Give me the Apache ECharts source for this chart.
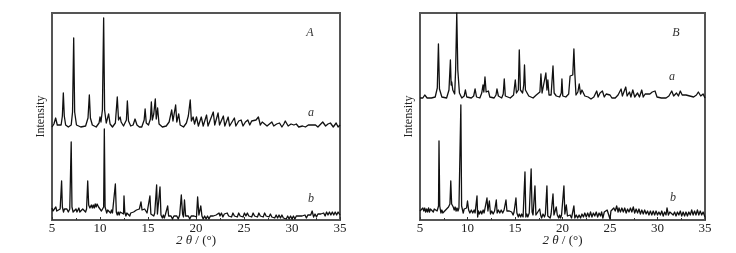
<!DOCTYPE html>
<html><head><meta charset="utf-8">
<style>html,body{margin:0;padding:0;background:#fff}#c{width:736px;height:253px}</style>
<script src="https://cdn.jsdelivr.net/npm/echarts@6/dist/echarts.min.js"></script>
</head><body><div id="c"></div>
<script>
const tickLabels = [5,10,15,20,25,30,35];
const curveAa = [[5,93],[5.2,96],[5.38,102],[5.55,95],[5.75,93],[5.95,95],[6.08,104],[6.18,127],[6.28,104],[6.42,95],[6.7,93],[7,95],[7.14,108],[7.26,182],[7.36,108],[7.55,95],[8,93],[8.5,94],[8.75,102],[8.89,125],[9,102],[9.2,95],[9.6,93],[9.9,97],[10,103],[10.1,98],[10.25,110],[10.38,202],[10.48,110],[10.65,97],[10.9,106],[11.05,96],[11.3,93],[11.6,97],[11.8,123],[11.93,100],[12.1,103],[12.2,98],[12.45,94],[12.75,100],[12.85,119],[12.97,99],[13.2,94],[13.45,95],[13.65,101],[13.85,95],[14.1,93],[14.35,93],[14.6,100],[14.7,111],[14.82,97],[15.05,95],[15.25,101],[15.35,118],[15.45,100],[15.6,106],[15.76,121],[15.86,101],[16,112],[16.15,96],[16.5,93],[16.9,94],[17.2,98],[17.47,110],[17.6,99],[17.88,115],[18,98],[18.2,106],[18.35,95],[18.7,93],[19,97],[19.2,104],[19.4,120],[19.52,99],[19.7,103],[19.85,96],[20.05,103],[20.25,94],[20.55,103],[20.75,94],[21.1,105],[21.25,94],[21.8,108],[21.95,95],[22.3,107],[22.45,95],[22.85,104],[23,94],[23.35,103],[23.5,94],[24,102],[24.15,94],[24.45,99],[24.7,100],[24.9,94],[25.15,98],[25.4,100],[25.6,95],[25.8,99],[26,98],[26.25,100],[26.5,103],[26.7,95],[26.9,98],[27.1,96],[27.4,94],[27.65,96],[27.9,98],[28.1,94],[28.4,96],[28.7,97],[28.95,93],[29.15,96],[29.3,99],[29.6,94],[29.9,96],[30.2,95],[30.45,96],[30.7,93],[30.9,95],[31.1,94],[31.4,93],[31.7,95],[32,95],[32.2,93],[32.45,95],[32.7,93],[33.2,98],[33.5,94],[33.75,96],[34,97],[34.3,93],[34.6,97],[34.8,93],[35,95]];
const curveAb = [[5,12],[5.1,9],[5.2,11],[5.3,8],[5.4,13],[5.5,9],[5.6,11],[5.7,8],[5.85,11],[5.95,13],[6,39],[6.08,13],[6.2,8],[6.3,11],[6.4,9],[6.55,11],[6.7,8],[6.85,11],[6.95,13],[7,78],[7.08,13],[7.2,8],[7.3,10],[7.4,8],[7.5,11],[7.6,8],[7.7,10],[7.8,12],[7.9,8],[8,10],[8.1,8],[8.2,11],[8.3,9],[8.4,11],[8.5,8],[8.6,11],[8.72,39],[8.82,15],[8.95,12],[9.1,15],[9.2,12],[9.3,15],[9.4,12],[9.5,16],[9.6,13],[9.7,16],[9.85,13],[10.05,12],[10.15,9],[10.25,11],[10.38,13],[10.45,91],[10.53,13],[10.7,7],[10.8,10],[10.9,8],[11,11],[11.1,7],[11.2,10],[11.3,7],[11.4,9],[11.5,7],[11.6,36],[11.7,8],[11.8,5],[11.9,8],[12,5],[12.1,8],[12.2,6],[12.3,9],[12.45,6],[12.5,24],[12.58,8],[12.7,4],[12.8,7],[12.9,5],[13,8],[13.1,4],[13.2,7],[13.35,5],[13.5,8],[13.65,7],[13.8,10],[13.95,8],[14.1,11],[14.2,9],[14.27,18],[14.38,10],[14.55,8],[14.65,11],[14.76,13],[14.9,7],[15.05,5],[15.2,24],[15.3,6],[15.4,4],[15.5,7],[15.6,4],[15.7,7],[15.85,5],[15.9,35],[15.98,6],[16.15,5],[16.25,33],[16.35,5],[16.5,2],[16.6,5],[16.7,2],[16.8,5],[16.95,3],[17.05,14],[17.15,4],[17.3,2],[17.4,4],[17.55,1],[17.7,4],[17.85,2],[18,4],[18.15,1],[18.3,5],[18.47,25],[18.6,6],[18.7,3],[18.8,20],[18.92,4],[19.05,2],[19.2,4],[19.35,1],[19.5,4],[19.65,2],[19.8,4],[20.05,3],[20.17,23],[20.3,5],[20.5,14],[20.62,4],[20.75,1],[20.9,4],[21.05,1],[21.2,4],[21.35,1],[21.5,4],[21.65,2],[21.8,4],[21.95,2],[22.1,5],[22.25,3],[22.4,7],[22.5,4],[22.65,7],[22.8,3],[22.95,6],[23.1,4],[23.25,7],[23.4,4],[23.55,6],[23.7,3],[23.85,7],[24,4],[24.15,6],[24.3,3],[24.45,7],[24.6,4],[24.75,6],[24.9,3],[25.05,7],[25.2,4],[25.35,7],[25.5,4],[25.65,6],[25.8,3],[25.95,7],[26.1,4],[26.25,6],[26.4,3],[26.55,7],[26.7,4],[26.85,6],[27,3],[27.15,7],[27.3,4],[27.45,6],[27.6,3],[27.75,6],[27.9,3],[28.05,5],[28.2,2],[28.35,5],[28.5,2],[28.65,5],[28.8,2],[28.95,5],[29.1,2],[29.25,4],[29.4,1],[29.55,4],[29.7,1],[29.85,4],[30,1],[30.15,4],[30.3,1],[30.45,4],[30.6,2],[30.75,4],[30.9,2],[31.05,4],[31.2,2],[31.35,5],[31.5,2],[31.65,5],[31.8,3],[31.95,5],[32.1,9],[32.25,3],[32.4,6],[32.55,3],[32.7,6],[32.85,4],[33,6],[33.15,4],[33.3,7],[33.45,4],[33.6,8],[33.75,5],[33.9,8],[34.05,5],[34.2,8],[34.35,5],[34.5,8],[34.65,5],[34.8,8],[35,5]];
const curveBa = [[5,122],[5.3,122],[5.5,125],[5.75,122],[6.2,122],[6.6,123],[6.82,132],[6.94,176],[7.05,131],[7.3,123],[7.8,122],[8.05,130],[8.2,160],[8.28,135],[8.34,138],[8.45,130],[8.65,126],[8.75,150],[8.87,207],[8.98,150],[9.15,127],[9.4,122],[9.65,124],[9.78,130],[9.92,123],[10.4,122],[10.65,124],[10.8,131],[10.95,123],[11.3,122],[11.5,127],[11.63,135],[11.72,128],[11.84,143],[11.96,128],[12.2,129],[12.35,123],[12.8,122],[13,125],[13.1,131],[13.25,124],[13.45,125],[13.6,122],[13.76,126],[13.87,141],[13.98,124],[14.5,122],[14.85,125],[15.03,140],[15.15,127],[15.35,130],[15.45,170],[15.57,130],[15.8,127],[15.92,135],[16,155],[16.1,130],[16.3,132],[16.45,124],[16.9,122],[17.24,125],[17.4,124],[17.62,128],[17.73,146],[17.85,127],[18.05,127],[18.25,147],[18.36,130],[18.46,140],[18.58,125],[18.8,125],[19,154],[19.12,127],[19.35,124],[19.7,123],[19.87,127],[19.94,141],[20.03,124],[20.35,123],[20.65,126],[20.8,144],[20.92,145],[21.08,145],[21.2,171],[21.3,146],[21.42,125],[21.62,128],[21.76,136],[21.9,126],[22.05,130],[22.2,128],[22.35,124],[22.55,126],[22.7,123],[23,121],[23.3,123],[23.45,126],[23.6,129],[23.75,123],[23.95,127],[24.2,129],[24.4,123],[24.6,126],[24.8,124],[25,125],[25.2,122],[25.55,122],[25.85,125],[26.17,131],[26.3,124],[26.66,133],[26.8,124],[27.05,128],[27.2,123],[27.4,130],[27.6,123],[27.9,127],[28.1,123],[28.34,130],[28.5,123],[28.7,126],[28.9,125],[29.2,126],[29.45,128],[29.74,129],[29.95,123],[30.4,122],[30.9,122],[31.2,124],[31.5,129],[31.7,124],[32,127],[32.2,124],[32.4,129],[32.6,125],[32.8,127],[33,125],[33.2,127],[33.4,124],[33.6,126],[33.8,123],[34.1,125],[34.3,128],[34.55,124],[34.8,126],[35,122]];
const curveBb = [[5,9],[5.1,11],[5.2,8],[5.3,12],[5.4,9],[5.5,12],[5.6,8],[5.7,11],[5.8,8],[5.9,12],[6,8],[6.1,11],[6.2,9],[6.3,12],[6.4,8],[6.5,11],[6.6,9],[6.7,12],[6.8,9],[6.95,14],[7,79],[7.08,14],[7.2,7],[7.3,10],[7.4,7],[7.5,9],[7.6,7],[7.7,10],[7.8,9],[8,13],[8.15,16],[8.24,39],[8.33,16],[8.5,13],[8.6,10],[8.7,13],[8.8,9],[8.9,12],[9,9],[9.1,12],[9.22,14],[9.3,115],[9.38,14],[9.55,7],[9.65,11],[9.75,9],[9.9,12],[10,19],[10.12,10],[10.25,7],[10.4,10],[10.55,7],[10.7,10],[10.8,7],[10.95,8],[11,24],[11.07,3],[11.15,9],[11.25,6],[11.4,9],[11.5,6],[11.65,10],[11.75,7],[11.95,6],[12.05,22],[12.15,9],[12.3,19],[12.42,6],[12.55,9],[12.7,6],[12.85,9],[12.95,7],[13.03,20],[13.12,7],[13.25,10],[13.4,7],[13.55,10],[13.7,7],[13.85,10],[13.95,9],[14.05,20],[14.15,9],[14.3,11],[14.4,9],[14.55,11],[14.65,8],[14.8,5],[14.9,8],[15.03,9],[15.1,22],[15.2,7],[15.35,3],[15.45,6],[15.6,3],[15.7,6],[15.85,3],[15.95,5],[16.05,48],[16.14,3],[16.25,6],[16.35,3],[16.5,7],[16.6,7],[16.7,51],[16.8,8],[16.9,5],[17,7],[17.1,34],[17.2,5],[17.3,7],[17.4,4],[17.6,11],[17.7,5],[17.8,2],[17.95,6],[18.1,3],[18.2,6],[18.3,6],[18.36,34],[18.45,4],[18.55,6],[18.7,2],[18.8,6],[18.92,6],[19,26],[19.1,5],[19.22,3],[19.34,13],[19.45,5],[19.6,2],[19.7,5],[19.8,2],[19.9,5],[20.07,7],[20.15,34],[20.25,6],[20.4,15],[20.52,4],[20.65,2],[20.8,5],[20.95,2],[21.1,4],[21.2,14],[21.3,2],[21.45,5],[21.6,2],[21.75,5],[21.9,2],[22.05,6],[22.2,3],[22.35,7],[22.5,3],[22.65,7],[22.8,3],[22.95,8],[23.1,3],[23.25,7],[23.4,4],[23.55,8],[23.7,3],[23.85,7],[24,4],[24.12,8],[24.25,2],[24.4,8],[24.55,6],[24.7,10],[24.8,8],[25,1],[25.1,9],[25.25,7],[25.4,12],[25.55,9],[25.7,14],[25.85,8],[25.95,12],[26.1,8],[26.25,12],[26.4,8],[26.55,12],[26.7,7],[26.85,11],[27,8],[27.15,12],[27.3,8],[27.45,13],[27.6,7],[27.75,11],[27.9,7],[28.05,11],[28.2,6],[28.35,10],[28.5,6],[28.65,10],[28.8,6],[28.95,9],[29.1,5],[29.25,9],[29.4,5],[29.55,9],[29.7,5],[29.85,9],[30,5],[30.15,8],[30.3,5],[30.45,9],[30.6,4],[30.75,8],[30.9,5],[31,12],[31.15,5],[31.3,8],[31.5,10],[31.65,5],[31.8,8],[31.95,4],[32.1,8],[32.25,5],[32.4,9],[32.55,4],[32.7,8],[32.85,4],[33,8],[33.15,4],[33.3,8],[33.45,5],[33.6,10],[33.75,5],[33.9,9],[34.05,5],[34.2,10],[34.35,5],[34.5,9],[34.65,5],[34.8,8],[35,3]];

const serif = '"Liberation Serif", "Times New Roman", serif';
const frame = '#555';
function axes(i){return {
  x:{gridIndex:i,type:'value',min:5,max:35,interval:5,
     axisLine:{show:true,onZero:false,lineStyle:{color:frame,width:2}},
     axisTick:{show:true,inside:true,length:3,lineStyle:{color:'#333',width:1}},
     minorTick:{show:true,splitNumber:2,length:2,lineStyle:{color:'#333',width:1}},
     splitLine:{show:false},
     axisLabel:{color:'#222',fontFamily:serif,fontSize:13,margin:2,
       customValues:tickLabels,formatter:v=>String(v)},
     name:'{i|2 θ} / (°)',nameLocation:'middle',nameGap:14,nameMoveOverlap:false,
     nameTextStyle:{color:'#222',fontFamily:serif,fontSize:13,
       rich:{i:{fontFamily:serif,fontStyle:'italic',fontSize:13,color:'#222'}}}},
  y:{gridIndex:i,type:'value',min:0,max:207,
     axisLine:{show:true,lineStyle:{color:frame,width:2}},
     axisTick:{show:false},axisLabel:{show:false},splitLine:{show:false},
     name:'Intensity',nameLocation:'middle',nameGap:5,
     nameTextStyle:{color:'#222',fontFamily:serif,fontSize:12}}
};}
const ax0=axes(0), ax1=axes(1);
function line(data,i){return {type:'line',data,xAxisIndex:i,yAxisIndex:i,showSymbol:false,smooth:false,
  lineStyle:{color:'#111',width:1.3,join:'round'},clip:true,silent:true};}
function tag(t,x,y){return {type:'text',x,y,style:{text:t,fill:'#333',font:'italic 12px '+serif,textAlign:'center',textVerticalAlign:'middle'}};}
const chart=echarts.init(document.getElementById('c'),null,{renderer:'canvas'});
chart.setOption({
  animation:false,backgroundColor:'#fff',
  grid:[
    {left:52,top:13,width:288,height:207,show:true,borderColor:frame,borderWidth:2,backgroundColor:'transparent'},
    {left:420,top:13,width:285,height:207,show:true,borderColor:frame,borderWidth:2,backgroundColor:'transparent'}
  ],
  xAxis:[ax0.x,ax1.x],yAxis:[ax0.y,ax1.y],
  series:[line(curveAa,0),line(curveAb,0),line(curveBa,1),line(curveBb,1)],
  graphic:[tag('A',310,33),tag('a',311,113),tag('b',311,199),tag('B',676,33),tag('a',672,77),tag('b',673,198)]
});
</script></body></html>
